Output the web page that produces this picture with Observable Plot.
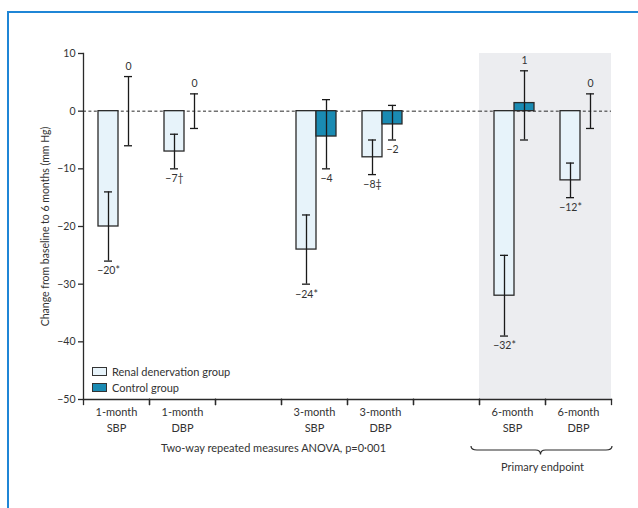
<!DOCTYPE html>
<html>
<head>
<meta charset="utf-8">
<script src="https://cdn.jsdelivr.net/npm/d3@7"></script>
<script src="https://cdn.jsdelivr.net/npm/@observablehq/plot@0.6"></script>
<style>
  html, body { margin: 0; padding: 0; background: #fff; overflow: hidden; }
  #wrap { position: relative; width: 638px; height: 508px; }
  #border { position: absolute; left: 7px; top: 11px; width: 700px; height: 600px;
            border-left: 2px solid #1f86d6; border-top: 2px solid #1f86d6; }
  #chart { position: absolute; left: 0; top: 0; }
  #legend { position: absolute; left: 92px; top: 364px; font: 11px Lato, sans-serif; color: #333; line-height: 15.5px; }
  #legend .row { display: flex; align-items: center; white-space: nowrap; }
  #legend .sw { width: 13px; height: 7px; border: 1px solid #333; margin-right: 5px; }
</style>
</head>
<body>
<div id="wrap">
  <div id="border"></div>
  <div id="chart"></div>
  <div id="legend"></div>
</div>
<script>
// ---- data ----
const slots = ["1m SBP", "1m DBP", "gap1", "3m SBP", "3m DBP", "gap2", "6m SBP", "6m DBP"];
const slotLabels = ["1-month\nSBP", "1-month\nDBP", "", "3-month\nSBP", "3-month\nDBP", "", "6-month\nSBP", "6-month\nDBP"];
const measures = ["1m SBP", "1m DBP", "3m SBP", "3m DBP", "6m SBP", "6m DBP"];
const groups = ["Renal denervation group", "Control group"];
const groupColors = ["#e7f3fa", "#1a8bb3"];

const renalMean = [-20, -7, -24, -8, -32, -12];
const renalLow = [-26, -10, -30, -11, -39, -15];
const renalHigh = [-14, -4, -18, -5, -25, -9];
const renalLabels = ["−20*", "−7†", "−24*", "−8‡", "−32*", "−12*"];

const controlMean = [0, 0, -4.4, -2.3, 1.4, 0];
const controlLow = [-6, -3, -10, -5, -5, -3];
const controlHigh = [6, 3, 2, 1, 7, 3];
const controlLabels = ["0", "0", "−4", "−2", "1", "0"];

const shadedSlots = ["6m SBP", "6m DBP"];
const yDomain = [-50, 10];
const yTicks = [10, 0, -10, -20, -30, -40, -50];
const yLabel = "Change from baseline to 6 months (mm Hg)";
const anovaText = "Two-way repeated measures ANOVA, p=0·001";
const endpointText = "Primary endpoint";

// ---- table ----
const rows = measures.flatMap((m, i) => [
  {slot: m, group: groups[0], mean: renalMean[i], low: renalLow[i], high: renalHigh[i], label: renalLabels[i]},
  {slot: m, group: groups[1], mean: controlMean[i], low: controlLow[i], high: controlHigh[i], label: controlLabels[i]}
]);

const W = 638, H = 508, mt = 53, mb = 109, ml = 82, mr = 27;
const innerH = H - mt - mb;
const ink = "#2a2a2a";

const plot = Plot.plot({
  width: W, height: H,
  marginLeft: ml, marginRight: mr, marginTop: mt, marginBottom: mb,
  style: {fontFamily: "Lato, sans-serif", fontSize: "11px", color: "#333", background: "transparent", overflow: "visible"},
  fx: {domain: slots, padding: 0},
  x: {domain: groups, axis: null, paddingInner: 0, paddingOuter: 0.65, align: 0.56},
  y: {domain: yDomain},
  color: {domain: groups, range: groupColors},
  marks: [
    Plot.barY(shadedSlots, {fx: d => d, y1: () => yDomain[0], y2: () => yDomain[1], fill: "#ecedf0"}),
    Plot.ruleY(slots, {fx: d => d, y: () => 0, stroke: ink, strokeWidth: 1, strokeDasharray: "3,2.4"}),
    Plot.barY(rows, {fx: "slot", x: "group", y1: () => 0, y2: "mean", fill: "group", stroke: ink, strokeWidth: 1.3}),
    Plot.ruleX(rows, {fx: "slot", x: "group", y1: "low", y2: "high", stroke: "#1a1a1a", strokeWidth: 1.3}),
    Plot.tickY(rows, {fx: "slot", x: "group", y: "low", insetLeft: 6, insetRight: 6, stroke: "#1a1a1a", strokeWidth: 1.3}),
    Plot.tickY(rows, {fx: "slot", x: "group", y: "high", insetLeft: 6, insetRight: 6, stroke: "#1a1a1a", strokeWidth: 1.3}),
    Plot.text(rows, {filter: d => d.mean < 0, fx: "slot", x: "group", y: "low", text: "label", dy: 10, lineAnchor: "middle", fill: "#333", fontSize: 10.5}),
    Plot.text(rows, {filter: d => d.mean >= 0, fx: "slot", x: "group", y: "high", text: "label", dy: -10, lineAnchor: "middle", fill: "#333", fontSize: 10.5}),
    // axes
    Plot.frame({anchor: "bottom", stroke: ink, strokeWidth: 1.3}),
    Plot.frame({anchor: "left", facetAnchor: "left", stroke: ink, strokeWidth: 1.3}),
    Plot.frame({anchor: "left", insetTop: innerH, insetBottom: -5, stroke: ink, strokeWidth: 1.3}),
    Plot.frame({anchor: "right", insetTop: innerH, insetBottom: -5, stroke: ink, strokeWidth: 1.3}),
    Plot.axisY({ticks: yTicks, tickSize: 5, tickPadding: 3, stroke: ink, strokeWidth: 1.3, fontSize: 10.5,
      label: yLabel, labelAnchor: "center", labelArrow: "none", labelOffset: 42}),
    Plot.axisFx({anchor: "bottom", tickSize: 0, tickPadding: 6, tickFormat: d => slotLabels[slots.indexOf(d)], lineHeight: 1.4, label: null, fontSize: 11}),
    // annotations under the axis
    Plot.text([anovaText], {fx: () => "3m SBP", frameAnchor: "bottom-left", text: d => d, dx: -8, dy: 49, textAnchor: "middle", lineAnchor: "middle", fill: "#333"}),
    Plot.text([endpointText], {fx: () => "6m SBP", frameAnchor: "bottom-right", text: d => d, dx: -3, dy: 68, textAnchor: "middle", lineAnchor: "middle", fill: "#333"})
  ]
});

document.getElementById("chart").appendChild(plot);

// brace under the primary endpoint columns
const fxs = plot.scale("fx");
const ys = plot.scale("y");
const L = fxs.apply(shadedSlots[0]) - 8;
const R = fxs.apply(shadedSlots[1]) + fxs.bandwidth + 1;
const C = (L + R) / 2 - 1;
const base = ys.apply(yDomain[0]);
const yt = base + 47, yh = base + 51, ytip = base + 55.5;
const p = d3.path();
p.moveTo(L, yt);
p.quadraticCurveTo(L, yh, L + 6, yh);
p.lineTo(C - 5, yh);
p.quadraticCurveTo(C, yh, C, ytip);
p.quadraticCurveTo(C, yh, C + 5, yh);
p.lineTo(R - 6, yh);
p.quadraticCurveTo(R, yh, R, yt);
d3.select(plot).append("path").attr("d", p.toString()).attr("fill", "none").attr("stroke", ink).attr("stroke-width", 1.2);

// legend
const leg = d3.select("#legend");
groups.forEach((g, i) => {
  const r = leg.append("div").attr("class", "row");
  r.append("div").attr("class", "sw").style("background", groupColors[i]);
  r.append("span").text(g);
});
</script>
</body>
</html>
